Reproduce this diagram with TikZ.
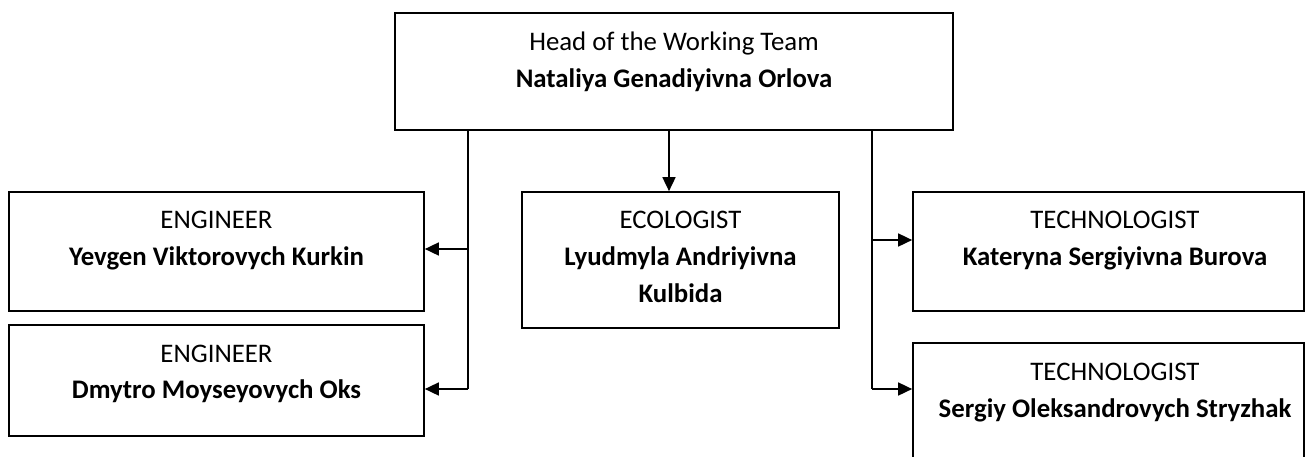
\documentclass[tikz,border=0pt]{standalone}
\usepackage{fontspec}
\setmainfont{Carlito}
\usetikzlibrary{arrows.meta}
\tikzset{
  box/.style={draw=black, line width=1.7pt, rectangle, inner sep=0pt, fill=none},
  txt/.style={inner sep=0pt, anchor=base, font=\fontsize{26.8}{32}\selectfont},
  btxt/.style={txt, font=\fontsize{26.8}{32}\selectfont\bfseries},
  conn/.style={draw=black, line width=1.7pt},
  arr/.style={conn, -{Triangle[length=14pt,width=13pt]}}
}
\begin{document}
\begin{tikzpicture}[x=1pt,y=-1pt]
\useasboundingbox[fill=white] (0,0) rectangle (1307,456);
% boxes
\node[box, minimum width=558pt, minimum height=117pt] (head) at (674,71.5) {};
\node[box, minimum width=415pt, minimum height=119pt] (eng1) at (216.5,251.5) {};
\node[box, minimum width=415pt, minimum height=111pt] (eng2) at (216.5,380.5) {};
\node[box, minimum width=317pt, minimum height=136pt] (eco) at (680.5,260) {};
\node[box, minimum width=391pt, minimum height=119pt] (tech1) at (1108.5,251.5) {};
\node[box, minimum width=391pt, minimum height=127pt] (tech2) at (1108.5,406.5) {};
% texts
\node[txt] (headt) at (674,50) {Head of the Working Team};
\node[btxt] (headn) at (674,87) {Nataliya Genadiyivna Orlova};
\node[txt] (eng1t) at (216.5,228) {ENGINEER};
\node[btxt] (eng1n) at (216.5,265) {Yevgen Viktorovych Kurkin};
\node[txt] (eng2t) at (216.5,362) {ENGINEER};
\node[btxt] (eng2n) at (216.5,398) {Dmytro Moyseyovych Oks};
\node[txt] (ecot) at (680.5,228) {ECOLOGIST};
\node[btxt] (econ1) at (680.5,265) {Lyudmyla Andriyivna};
\node[btxt] (econ2) at (680.5,302) {Kulbida};
\node[txt] (tech1t) at (1115,228) {TECHNOLOGIST};
\node[btxt] (tech1n) at (1115,265) {Kateryna Sergiyivna Burova};
\node[txt] (tech2t) at (1115,380) {TECHNOLOGIST};
\node[btxt] (tech2n) at (1115,417) {Sergiy Oleksandrovych Stryzhak};
% connectors
\coordinate (M) at (669,0);
\coordinate (L1) at (468,249);
\coordinate (L2) at (468,389);
\coordinate (R1) at (872,240);
\coordinate (R2) at (872,389);
\draw[arr] (head.south -| M) -- (eco.north -| M);
\draw[conn] (head.south -| L2) -- (L2);
\draw[arr] (L1) -- (eng1.east |- L1);
\draw[arr] (L2) -- (eng2.east |- L2);
\draw[conn] (head.south -| R2) -- (R2);
\draw[arr] (R1) -- (tech1.west |- R1);
\draw[arr] (R2) -- (tech2.west |- R2);
\end{tikzpicture}
\end{document}
